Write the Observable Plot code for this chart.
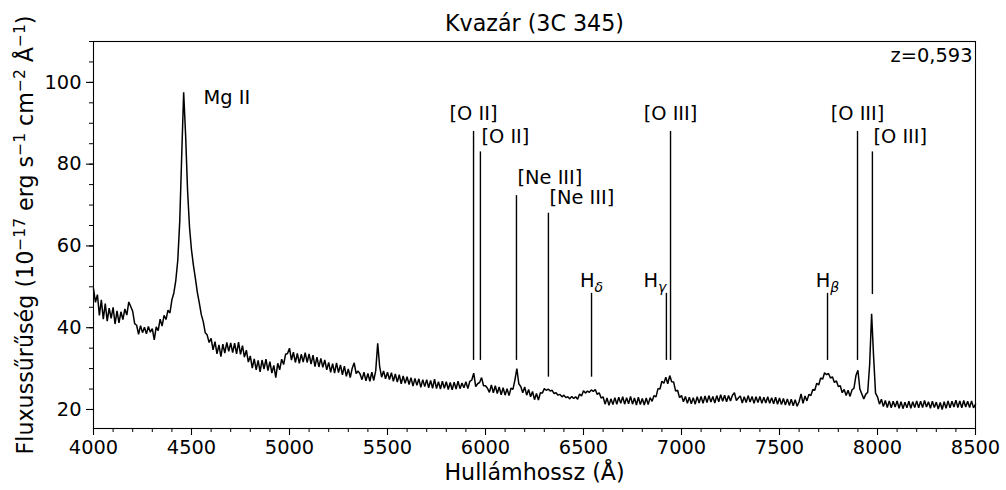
<!DOCTYPE html>
<html>
<head>
<meta charset="utf-8">
<script src="https://cdn.jsdelivr.net/npm/d3@7"></script>
<script src="https://cdn.jsdelivr.net/npm/@observablehq/plot@0.6"></script>
<style>
  html, body { margin: 0; padding: 0; background: white; }
  svg { display: block; }
</style>
</head>
<body>
<div id="chart"></div>
<script>
// ---- data ----
const titleText = "Kvazár (3C 345)";
const xLabel = "Hullámhossz (Å)";
// y label pieces: [text, isSuperscript]
const yLabelParts = [
  ["Fluxussűrűség (10", false], ["−17", true], [" erg s", false], ["−1", true],
  [" cm", false], ["−2", true], [" Å", false], ["−1", true], [")", false]
];
const redshiftText = "z=0,593";

// wavelength grid (Å), 10 Å steps from 4000 to 8500
const wavelength = d3.range(4000, 8501, 10);
// flux density (10^-17 erg s^-1 cm^-2 Å^-1)
const flux = [
  49.5, 46.2, 48.1, 43.0, 46.8, 42.1, 45.9, 41.6, 44.8, 42.3, // 4000
  45.0, 40.9, 44.1, 41.2, 43.9, 42.0, 44.6, 43.1, 46.3, 45.2, // 4100
  44.0, 41.0, 40.6, 38.4, 40.5, 38.8, 40.1, 38.5, 40.3, 38.9, // 4200
  39.8, 37.0, 40.2, 39.3, 42.1, 40.4, 43.0, 42.0, 44.3, 43.6, // 4300
  46.8, 48.5, 51.6, 56.5, 66.0, 82.0, 97.6, 87.0, 73.5, 64.5, // 4400
  59.0, 55.2, 52.0, 48.6, 46.0, 43.2, 41.5, 38.8, 38.2, 36.4, // 4500
  37.4, 34.6, 36.6, 33.6, 35.8, 32.9, 36.0, 33.8, 36.4, 34.2, // 4600
  36.3, 33.9, 36.2, 33.6, 36.5, 33.5, 35.6, 32.8, 34.5, 31.6, // 4700
  33.1, 30.1, 32.4, 29.7, 32.0, 29.2, 32.1, 29.9, 32.3, 29.5, // 4800
  31.7, 28.9, 30.8, 27.8, 31.3, 29.7, 32.3, 31.0, 33.5, 33.7, // 4900
  35.0, 32.1, 34.0, 31.5, 33.7, 31.3, 33.5, 31.6, 33.9, 31.5, // 5000
  33.6, 31.1, 33.3, 30.5, 32.8, 30.4, 32.5, 30.3, 32.1, 29.7, // 5100
  31.5, 29.1, 31.2, 28.9, 31.4, 29.0, 30.9, 28.5, 30.6, 28.1, // 5200
  29.9, 27.8, 30.1, 31.4, 28.8, 29.4, 28.7, 27.3, 29.1, 27.0, // 5300
  28.8, 26.9, 29.1, 27.1, 29.5, 36.2, 30.5, 27.9, 29.4, 27.5, // 5400
  29.1, 27.3, 29.0, 26.9, 28.7, 26.7, 28.5, 26.3, 28.2, 26.4, // 5500
  28.0, 26.1, 27.8, 25.7, 27.6, 25.9, 27.5, 25.4, 27.3, 25.6, // 5600
  27.3, 25.3, 27.1, 25.2, 27.4, 25.1, 26.8, 25.0, 26.9, 25.2, // 5700
  26.8, 24.9, 26.6, 24.8, 26.7, 25.0, 26.9, 25.1, 26.5, 25.3, // 5800
  26.8, 25.1, 26.9, 27.2, 28.9, 25.6, 26.3, 26.6, 27.8, 25.8, // 5900
  25.8, 25.2, 24.2, 26.0, 24.1, 25.8, 23.9, 25.5, 23.6, 25.3, // 6000
  23.5, 25.1, 23.4, 25.2, 24.9, 27.2, 30.0, 26.3, 25.6, 24.1, // 6100
  25.5, 23.5, 24.9, 23.1, 24.4, 22.4, 23.9, 22.3, 24.1, 24.0, // 6200
  25.1, 24.7, 25.0, 24.5, 24.7, 23.9, 24.1, 23.5, 23.7, 23.1, // 6300
  23.5, 22.9, 23.1, 22.6, 23.2, 22.7, 23.1, 22.5, 23.8, 23.3, // 6400
  24.6, 24.0, 24.5, 24.2, 24.8, 24.4, 24.9, 23.7, 24.1, 22.8, // 6500
  23.1, 21.3, 22.8, 21.0, 22.6, 21.2, 22.9, 21.3, 23.0, 21.5, // 6600
  23.1, 21.3, 22.9, 21.4, 23.2, 21.3, 22.8, 21.1, 23.0, 21.2, // 6700
  22.7, 21.1, 22.8, 21.2, 22.9, 22.0, 23.4, 23.1, 25.1, 25.0, // 6800
  26.9, 26.4, 27.9, 26.3, 28.3, 26.8, 26.7, 24.5, 24.7, 22.9, // 6900
  23.4, 21.9, 23.2, 21.5, 23.0, 21.4, 22.9, 21.3, 23.1, 21.6, // 7000
  23.2, 21.5, 23.3, 21.7, 23.4, 21.8, 23.2, 21.6, 23.4, 21.9, // 7100
  23.6, 22.0, 23.5, 21.9, 23.4, 22.1, 23.5, 24.1, 22.2, 22.8, // 7200
  23.3, 21.6, 23.1, 21.7, 23.4, 21.8, 23.2, 21.5, 23.1, 21.7, // 7300
  23.2, 21.5, 23.0, 21.6, 23.1, 21.5, 22.9, 21.4, 23.0, 21.3, // 7400
  22.8, 21.2, 22.7, 21.1, 22.6, 21.0, 22.5, 20.9, 22.4, 20.8, // 7500
  21.9, 23.8, 21.5, 23.3, 22.1, 23.7, 23.4, 24.9, 24.7, 26.4, // 7600
  26.0, 27.7, 27.4, 29.0, 28.5, 28.8, 27.7, 28.0, 26.6, 27.0, // 7700
  25.6, 25.8, 24.1, 24.9, 23.4, 24.7, 23.2, 24.8, 25.2, 28.3, // 7800
  29.6, 25.0, 23.8, 22.6, 23.7, 24.2, 31.0, 43.4, 33.0, 24.0, // 7900
  23.1, 21.3, 22.5, 20.7, 22.2, 20.5, 22.1, 20.4, 22.0, 20.6, // 8000
  22.1, 20.3, 21.9, 20.2, 21.8, 20.4, 22.0, 20.3, 21.9, 20.5, // 8100
  22.1, 20.4, 22.0, 20.5, 22.2, 20.6, 21.9, 20.3, 22.0, 20.5, // 8200
  21.8, 20.1, 21.7, 20.0, 21.9, 20.3, 22.1, 20.4, 22.0, 20.6, // 8300
  22.3, 20.5, 22.1, 20.4, 22.2, 20.6, 22.0, 20.5, 22.1, 20.4, // 8400
  21.3                                                        // 8500
];

// emission line markers
const lineWave   = [5939, 5974, 6158, 6321, 6541, 6923, 6944, 7745, 7898, 7974];
const lineTop    = [88, 83, 72.3, 68, 48.4, 48.4, 88, 48.4, 88, 83];
const lineBottom = [32, 32, 32, 27.9, 27.9, 32, 32, 32, 32, 48.1];
const lineLabel  = ["[O II]", "[O II]", "[Ne III]", "[Ne III]", "Hδ", "Hγ", "[O III]", "Hβ", "[O III]", "[O III]"];
const labelY     = [92.4, 86.6, 76.7, 71.8, 51.6, 51.6, 92.4, 51.6, 92.4, 86.6];
const labelAlign = ["middle", "start", "start", "start", "middle", "end", "middle", "middle", "middle", "start"];

const mgLabel = "Mg II";
const mgLabelX = 4561;
const mgLabelY = 96.3;

const xMajor = [4000, 4500, 5000, 5500, 6000, 6500, 7000, 7500, 8000, 8500];
const xMinor = d3.range(4000, 8501, 100);
const yMajor = [20, 40, 60, 80, 100];
const yMinor = d3.range(20, 111, 5);

// ---- build ----
const spectrum = wavelength.map((w, i) => ({w, f: flux[i]}));
const lines = lineWave.map((w, i) => ({
  w, top: lineTop[i], bottom: lineBottom[i], label: lineLabel[i], ly: labelY[i], align: labelAlign[i]
}));
const yLabelPlain = yLabelParts.map(p => p[0]).join("");

const FONT = "DejaVu Sans, sans-serif";
const tickFs = 19.4;
const labFs = 22.2;

const chart = Plot.plot({
  width: 1006,
  height: 490,
  marginTop: 41,
  marginBottom: 62,
  marginLeft: 93,
  marginRight: 31,
  style: {fontFamily: FONT, fontSize: tickFs + "px", color: "black", background: "white"},
  x: {domain: [4000, 8500]},
  y: {domain: [15.35, 110]},
  marks: [
    Plot.axisX({ticks: xMinor, tickSize: 4, text: null, label: null, strokeWidth: 1}),
    Plot.axisX({ticks: xMajor, tickSize: 7, tickPadding: 5, tickFormat: d => String(d), label: null, fontSize: tickFs, strokeWidth: 1.1}),
    Plot.axisY({ticks: yMinor, tickSize: 4, text: null, label: null, strokeWidth: 1}),
    Plot.axisY({ticks: yMajor, tickSize: 7, tickPadding: 5, tickFormat: d => String(d), label: null, fontSize: tickFs, strokeWidth: 1.1}),
    Plot.line(spectrum, {x: "w", y: "f", stroke: "black", strokeWidth: 1.5, strokeLinejoin: "miter"}),
    Plot.ruleX(lines, {x: "w", y1: "bottom", y2: "top", stroke: "black", strokeWidth: 1.4}),
    Plot.text(lines.filter(d => d.align === "middle"), {x: "w", y: "ly", text: "label", textAnchor: "middle", fontSize: tickFs}),
    Plot.text(lines.filter(d => d.align === "start"), {x: "w", y: "ly", text: "label", textAnchor: "start", dx: 1, fontSize: tickFs}),
    Plot.text(lines.filter(d => d.align === "end"), {x: "w", y: "ly", text: "label", textAnchor: "end", dx: 0, fontSize: tickFs}),
    Plot.text([mgLabel], {x: () => mgLabelX, y: () => mgLabelY, text: d => d, textAnchor: "start", fontSize: tickFs}),
    Plot.text([redshiftText], {frameAnchor: "top-right", text: d => d, dx: -3, dy: 14, textAnchor: "end", lineAnchor: "middle", fontSize: tickFs}),
    Plot.text([titleText], {frameAnchor: "top", text: d => d, dy: -18, textAnchor: "middle", lineAnchor: "middle", fontSize: labFs}),
    Plot.text([xLabel], {frameAnchor: "bottom", text: d => d, dy: 44, textAnchor: "middle", lineAnchor: "middle", fontSize: labFs}),
    Plot.text([yLabelPlain], {frameAnchor: "left", text: d => d, dx: -68, rotate: -90, textAnchor: "middle", lineAnchor: "middle", fontSize: labFs}),
    Plot.frame({stroke: "black", strokeWidth: 1.1})
  ]
});

const SVGNS = "http://www.w3.org/2000/svg";
chart.querySelectorAll("text").forEach(t => {
  // subscripts for Balmer-line labels
  const m = t.textContent.match(/^H([δγβ])$/);
  if (m) {
    t.textContent = "H";
    const ts = document.createElementNS(SVGNS, "tspan");
    ts.setAttribute("font-style", "italic");
    ts.setAttribute("font-size", "14");
    ts.setAttribute("dy", "5");
    ts.textContent = m[1];
    t.appendChild(ts);
  }
  // superscripts in the y label
  if (t.textContent === yLabelPlain) {
    t.textContent = "";
    let raised = false;
    yLabelParts.forEach(([s, sup]) => {
      const ts = document.createElementNS(SVGNS, "tspan");
      ts.textContent = s;
      if (sup) {
        ts.setAttribute("font-size", "15.5");
        ts.setAttribute("dy", "-8");
        raised = true;
      } else if (raised) {
        ts.setAttribute("dy", "8");
        raised = false;
      }
      t.appendChild(ts);
    });
  }
});

document.getElementById("chart").appendChild(chart);
</script>
</body>
</html>
